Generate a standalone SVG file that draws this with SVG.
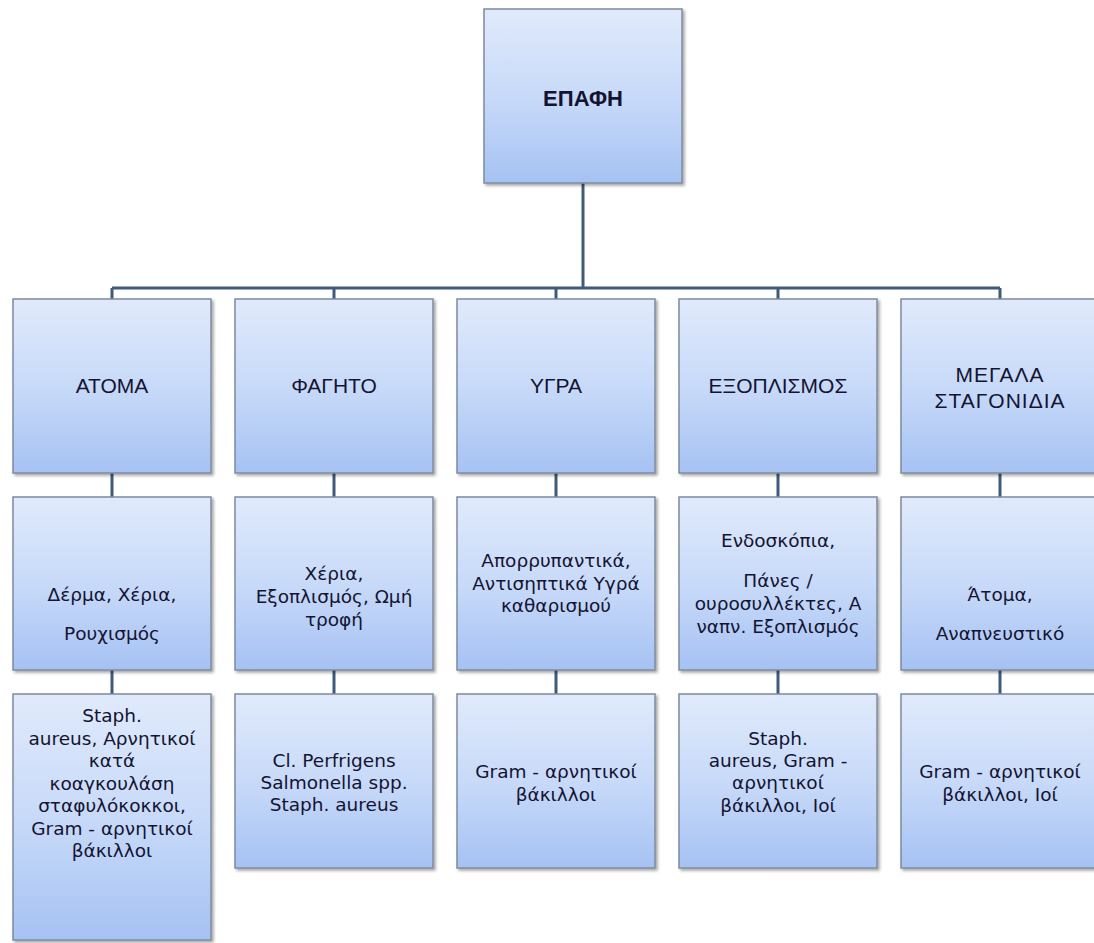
<svg xmlns="http://www.w3.org/2000/svg" width="1094" height="943" viewBox="0 0 1094 943">
<defs>
<linearGradient id="g" x1="0" y1="0" x2="0" y2="1">
<stop offset="0" stop-color="#e0eafb"/>
<stop offset="0.5" stop-color="#c8daf9"/>
<stop offset="1" stop-color="#a6c2f3"/>
</linearGradient>
<filter id="sh" x="-10%" y="-10%" width="130%" height="130%">
<feDropShadow dx="2" dy="2" stdDeviation="1.5" flood-color="#000" flood-opacity="0.35"/>
</filter>
</defs>
<style>
.box{fill:url(#g);stroke:#7d8ba0;stroke-width:1.5;filter:url(#sh)}
.con{fill:none;stroke:#3f5a7c;stroke-width:3}
text{font-family:"DejaVu Sans","Noto Sans",sans-serif;font-size:18.5px;fill:#141432;text-anchor:middle}
.cap{font-family:"Liberation Sans",Arial,sans-serif;font-size:21px}
.w{letter-spacing:1px}
.b{font-weight:bold;font-size:22px}
</style>
<rect width="1094" height="943" fill="#ffffff"/>
<g id="connectors">
<path class="con" d="M583 183V288M112 288H1000M112 288V299M334 288V299M556 288V299M778 288V299M1000 288V299"/>
<path class="con" d="M112 473V497M334 473V497M556 473V497M778 473V497M1000 473V497"/>
<path class="con" d="M112 670V694M334 670V694M556 670V694M778 670V694M1000 670V694"/>
</g>
<g id="n-epafi"><rect class="box" x="484" y="9" width="198" height="174"/><text class="cap b" x="583" y="106">ΕΠΑΦΗ</text></g>

<g id="n-atoma"><rect class="box" x="13" y="299" width="198" height="174"/><text class="cap" x="112" y="393">ΑΤΟΜΑ</text></g>
<g id="n-fagito"><rect class="box" x="235" y="299" width="198" height="174"/><text class="cap" x="334" y="393">ΦΑΓΗΤΟ</text></g>
<g id="n-ygra"><rect class="box" x="457" y="299" width="198" height="174"/><text class="cap" x="556" y="393">ΥΓΡΑ</text></g>
<g id="n-exoplismos"><rect class="box" x="679" y="299" width="198" height="174"/><text class="cap" x="778" y="393">ΕΞΟΠΛΙΣΜΟΣ</text></g>
<g id="n-megala"><rect class="box" x="901" y="299" width="198" height="174"/><text class="cap w" x="1000" y="382">ΜΕΓΑΛΑ</text><text class="cap w" x="1000" y="408">ΣΤΑΓΟΝΙΔΙΑ</text></g>

<g id="n-derma"><rect class="box" x="13" y="497" width="198" height="173"/><text x="112" y="601">Δέρμα, Χέρια,</text><text x="112" y="640">Ρουχισμός</text></g>
<g id="n-xeria"><rect class="box" x="235" y="497" width="198" height="173"/><text x="334" y="580">Χέρια,</text><text x="334" y="603">Εξοπλισμός, Ωμή</text><text x="334" y="626">τροφή</text></g>
<g id="n-aporry"><rect class="box" x="457" y="497" width="198" height="173"/><text x="556" y="567">Απορρυπαντικά,</text><text x="556" y="590">Αντισηπτικά Υγρά</text><text x="556" y="612">καθαρισμού</text></g>
<g id="n-endosk"><rect class="box" x="679" y="497" width="198" height="173"/><text x="778" y="547">Ενδοσκόπια,</text><text x="778" y="587">Πάνες /</text><text x="778" y="610">ουροσυλλέκτες, Α</text><text x="778" y="633">ναπν. Εξοπλισμός</text></g>
<g id="n-atoma2"><rect class="box" x="901" y="497" width="198" height="173"/><text x="1000" y="601">Άτομα,</text><text x="1000" y="640">Αναπνευστικό</text></g>

<g id="n-staph1"><rect class="box" x="13" y="694" width="198" height="246"/><text x="112" y="722">Staph.</text><text x="112" y="745">aureus, Αρνητικοί</text><text x="112" y="767">κατά</text><text x="112" y="790">κοαγκουλάση</text><text x="112" y="812">σταφυλόκοκκοι,</text><text x="112" y="835">Gram - αρνητικοί</text><text x="112" y="857">βάκιλλοι</text></g>
<g id="n-cl"><rect class="box" x="235" y="694" width="198" height="174"/><text x="334" y="767">Cl. Perfrigens</text><text x="334" y="789">Salmonella spp.</text><text x="334" y="811">Staph. aureus</text></g>
<g id="n-gram3"><rect class="box" x="457" y="694" width="198" height="174"/><text x="556" y="778">Gram - αρνητικοί</text><text x="556" y="801">βάκιλλοι</text></g>
<g id="n-staph4"><rect class="box" x="679" y="694" width="198" height="174"/><text x="778" y="745">Staph.</text><text x="778" y="767">aureus, Gram -</text><text x="778" y="789">αρνητικοί</text><text x="778" y="812">βάκιλλοι, Ιοί</text></g>
<g id="n-gram5"><rect class="box" x="901" y="694" width="198" height="174"/><text x="1000" y="778">Gram - αρνητικοί</text><text x="1000" y="801">βάκιλλοι, Ιοί</text></g>
</svg>
